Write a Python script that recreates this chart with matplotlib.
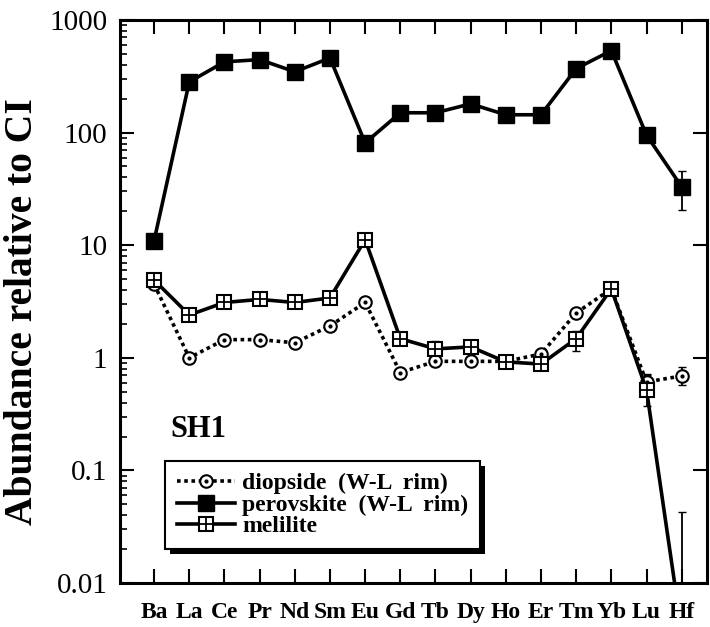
import numpy as np
import matplotlib
matplotlib.use("Agg")
import matplotlib.pyplot as plt
from matplotlib.legend_handler import HandlerTuple
from matplotlib.patches import Rectangle

elements = ["Ba", "La", "Ce", "Pr", "Nd", "Sm", "Eu", "Gd", "Tb", "Dy", "Ho", "Er", "Tm", "Yb", "Lu", "Hf"]
diopside = [4.5, 1.0, 1.45, 1.45, 1.36, 1.92, 3.1, 0.74, 0.93, 0.93, 0.93, 1.08, 2.5, 4.1, 0.61, 0.69]
diopside_lo = [0, 0, 0, 0, 0, 0, 0, 0.06, 0.08, 0, 0, 0, 0, 0, 0.08, 0.12]
diopside_hi = [0, 0, 0, 0, 0, 0, 0, 0.06, 0.08, 0, 0, 0, 0, 0, 0.1, 0.14]
perovskite = [11, 282, 425, 445, 347, 460, 81, 150, 150, 180, 144, 144, 370, 535, 95, 33]
perov_lo = [0] * 15 + [12.4]
perov_hi = [0] * 15 + [13]
melilite = [4.9, 2.4, 3.1, 3.3, 3.1, 3.4, 11.2, 1.48, 1.2, 1.25, 0.92, 0.88, 1.48, 4.1, 0.52, 0.0037]
mel_lo = [0, 0, 0, 0, 0, 0, 0, 0, 0.15, 0, 0, 0, 0.33, 0, 0.15, 0]
mel_hi = [0, 0, 0, 0, 0, 0, 0, 0, 0.2, 0, 0, 0, 0.25, 0, 0.2, 0.039]

plt.rcParams['font.family'] = ['Liberation Serif', 'DejaVu Serif']

fig = plt.figure(figsize=(7.10, 6.27), dpi=100)
ax = fig.add_axes([120/710, 1 - 583/627, 587/710, 563/627])
x = np.arange(len(elements))
k = 'black'

# error bars
ax.errorbar(x, diopside, yerr=[diopside_lo, diopside_hi], fmt='none', ecolor=k, elinewidth=1.3, capsize=3, zorder=2)
ax.errorbar(x, perovskite, yerr=[perov_lo, perov_hi], fmt='none', ecolor=k, elinewidth=1.3, capsize=3, zorder=2)
ax.errorbar(x, melilite, yerr=[mel_lo, mel_hi], fmt='none', ecolor=k, elinewidth=1.3, capsize=3, zorder=2)

ld, = ax.plot(x, diopside, color=k, lw=2.6, ls=(0, (1, 1)), marker='o', ms=9,
              mfc='white', mec=k, mew=1.5, zorder=3)
ldd, = ax.plot(x, diopside, ls='none', marker='o', ms=2, mfc=k, mec=k, zorder=4)
lp, = ax.plot(x, perovskite, color=k, lw=2.6, marker='s', ms=11, mfc=k, mec=k, zorder=5)
lm, = ax.plot(x, melilite, color=k, lw=2.6, marker='s', ms=10, mfc='white', mec=k, mew=1.5, zorder=6)
lmp, = ax.plot(x, melilite, ls='none', marker='+', ms=10, mec=k, mew=1.3, zorder=7)

ax.set_yscale('log')
ax.set_ylim(0.01, 1000)
ax.set_xlim(-0.97, 15.72)
ax.set_xticks(x)
ax.set_xticklabels(elements, fontsize=17, fontweight='bold')
ax.set_yticks([0.01, 0.1, 1, 10, 100, 1000])
ax.set_yticklabels(['0.01', '0.1', '1', '10', '100', '1000'], fontsize=21)
ax.tick_params(axis='both', which='major', direction='in', length=10, width=1.5,
               top=True, right=True)
ax.tick_params(axis='x', which='major', pad=14)
ax.tick_params(axis='y', which='major', pad=9)
ax.tick_params(axis='y', which='minor', direction='in', length=5, width=1.2, left=True, right=False)
ax.tick_params(axis='x', which='minor', bottom=False, top=False)
for s in ax.spines.values():
    s.set_linewidth(2.2)

ax.set_ylabel('Abundance relative to CI', fontsize=28.5, fontweight='bold')
ax.yaxis.set_label_coords(-0.134, 0.483)

ax.text(0.45, 0.23, 'SH1', fontsize=22, fontweight='bold', va='center', ha='left',
        transform=ax.transData)

leg = ax.legend([(ld, ldd), lp, (lm, lmp)],
                ['diopside  (W-L  rim)', 'perovskite  (W-L  rim)', 'melilite'],
                handler_map={tuple: HandlerTuple(ndivide=1, pad=0)},
                loc='lower left', bbox_to_anchor=(0.077, 0.06),
                prop={'weight': 'bold', 'size': 17}, handlelength=2.45, handletextpad=0.3,
                labelspacing=0.0, borderpad=0.5, borderaxespad=0, fancybox=False,
                framealpha=1)
leg.get_frame().set_edgecolor(k)
leg.get_frame().set_facecolor('white')
leg.get_frame().set_linewidth(1.5)
leg.set_zorder(10)

fig.canvas.draw()
bb = leg.get_window_extent()
shadow = Rectangle((bb.x0 + 5, bb.y0 - 5), bb.width, bb.height, transform=None,
                   facecolor=k, edgecolor='none', zorder=9, clip_on=False)
ax.add_artist(shadow)

fig.savefig('out.png', dpi=100)
